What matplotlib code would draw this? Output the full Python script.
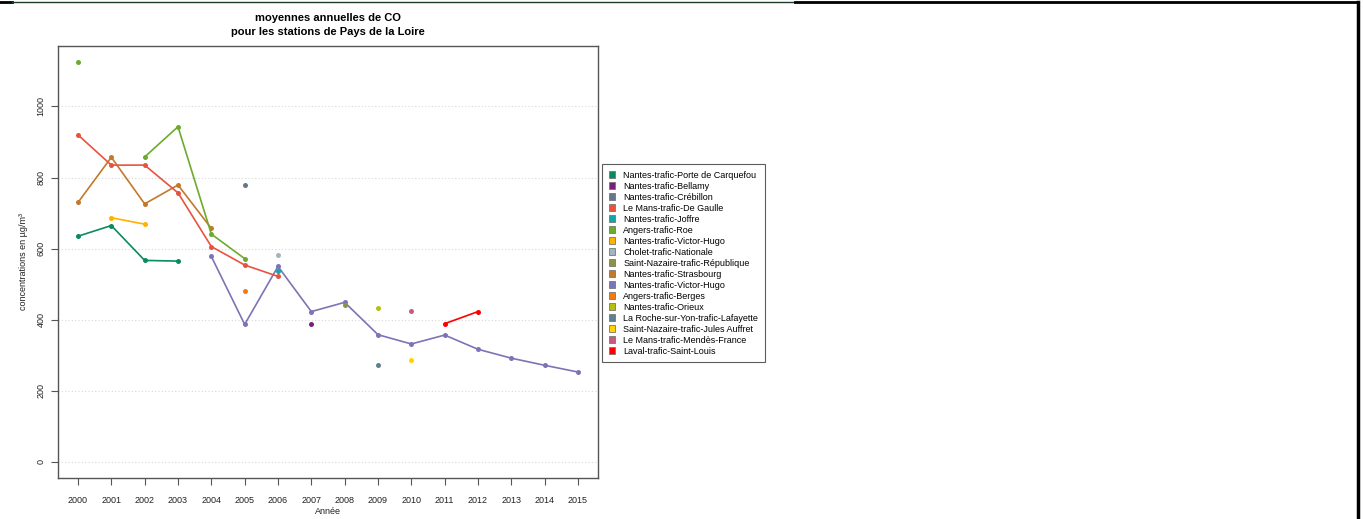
import numpy as np
import matplotlib
matplotlib.use("Agg")
import matplotlib.pyplot as plt
from matplotlib.patches import Patch
from matplotlib.lines import Line2D

plt.rcParams['font.family'] = ['Liberation Sans', 'DejaVu Sans']

years = list(range(2000, 2016))
nan = np.nan

# Annual mean CO concentrations (µg/m³) per station, one value per year 2000-2015
porte_carquefou = [635, 665, 567, 565] + [nan] * 12
bellamy = [nan] * 7 + [389] + [nan] * 8
crebillon = [nan] * 5 + [778] + [nan] * 10
lemans_de_gaulle = [920, 835, 835, 757, 606, 554, 522] + [nan] * 9
joffre = [nan] * 6 + [537] + [nan] * 9
angers_roe = [1125, nan, 858, 943, 641, 572] + [nan] * 10
victor_hugo_a = [nan, 687, 669] + [nan] * 13
cholet_nationale = [nan] * 6 + [581] + [nan] * 9
sn_republique = [nan] * 8 + [441] + [nan] * 7
strasbourg = [730, 857, 726, 779, 657] + [nan] * 11
victor_hugo_b = [nan] * 4 + [578, 387, 550, 423, 449, 358, 332, 357, 317, 292, 272, 253]
angers_berges = [nan] * 5 + [482] + [nan] * 10
orieux = [nan] * 9 + [432] + [nan] * 6
la_roche_lafayette = [nan] * 9 + [273] + [nan] * 6
sn_jules_auffret = [nan] * 10 + [286] + [nan] * 5
lemans_mendes_france = [nan] * 10 + [425] + [nan] * 5
laval_saint_louis = [nan] * 11 + [389, 423] + [nan] * 3

stations = [
    "Nantes-trafic-Porte de Carquefou",
    "Nantes-trafic-Bellamy",
    "Nantes-trafic-Crébillon",
    "Le Mans-trafic-De Gaulle",
    "Nantes-trafic-Joffre",
    "Angers-trafic-Roe",
    "Nantes-trafic-Victor-Hugo",
    "Cholet-trafic-Nationale",
    "Saint-Nazaire-trafic-République",
    "Nantes-trafic-Strasbourg",
    "Nantes-trafic-Victor-Hugo",
    "Angers-trafic-Berges",
    "Nantes-trafic-Orieux",
    "La Roche-sur-Yon-trafic-Lafayette",
    "Saint-Nazaire-trafic-Jules Auffret",
    "Le Mans-trafic-Mendès-France",
    "Laval-trafic-Saint-Louis",
]
values = [
    porte_carquefou, bellamy, crebillon, lemans_de_gaulle, joffre, angers_roe,
    victor_hugo_a, cholet_nationale, sn_republique, strasbourg, victor_hugo_b,
    angers_berges, orieux, la_roche_lafayette, sn_jules_auffret,
    lemans_mendes_france, laval_saint_louis,
]
colors = [
    "#0b8a5e", "#7a1f7c", "#667789", "#e8533e", "#10a7a8", "#6cab2c",
    "#ffb200", "#a3b3c0", "#8c9443", "#c4782a", "#7b74b5", "#f27b0c",
    "#b5c10f", "#5f8090", "#ffd200", "#c85a80", "#ff0000",
]

W, H = 1363, 519
fig = plt.figure(figsize=(W / 100, H / 100), dpi=100)
ax = fig.add_axes([58 / W, 1 - 478 / H, (598 - 58) / W, (478 - 46) / H])

# Draw in reverse so the first stations sit on top
for name, vals, col in reversed(list(zip(stations, values, colors))):
    ax.plot(years, vals, color=col, lw=1.2, marker='o', markersize=3.6,
            markeredgewidth=0, zorder=3)

ax.set_xlim(1999.4, 2015.6)
ax.set_ylim(-45, 1170)
ax.set_xticks(years)
ax.set_xticklabels([str(y) for y in years], fontsize=6.5)
ax.set_yticks(range(0, 1001, 200))
ax.set_yticklabels([str(v) for v in range(0, 1001, 200)], fontsize=6.5,
                   rotation=90, va='center')
for v in range(0, 1001, 200):
    ax.axhline(v, color='#d8d8d8', lw=0.8, ls=(0, (1, 2)), zorder=1)

for sp in ax.spines.values():
    sp.set_color('#555555')
    sp.set_linewidth(1.0)
ax.tick_params(axis='both', colors='#555555', labelcolor='#222222',
               length=5, width=0.8)
ax.tick_params(axis='x', pad=8)
ax.tick_params(axis='y', pad=4)

ax.set_ylabel("concentrations en µg/m³", fontsize=6.5, color='#222222', labelpad=6)
fig.text(328 / W, 1 - 511 / H, "Année", ha='center', va='center',
         fontsize=6.5, color='#222222')

fig.text(328 / W, 1 - 18 / H, "moyennes annuelles de CO", ha='center', va='center',
         fontsize=8, fontweight='bold')
fig.text(328 / W, 1 - 32 / H, "pour les stations de Pays de la Loire", ha='center',
         va='center', fontsize=8, fontweight='bold')

handles = [Patch(facecolor=c, edgecolor='#777777', linewidth=0.6) for c in colors]
leg = fig.legend(handles, stations, loc='upper left',
                 bbox_to_anchor=(602 / W, 1 - 164 / H), fontsize=6.5,
                 frameon=True, fancybox=False, borderpad=0.75, labelspacing=0.22,
                 handlelength=0.7, handleheight=0.8, handletextpad=0.9,
                 borderaxespad=0)
leg.get_frame().set_edgecolor('#333333')
leg.get_frame().set_linewidth(0.8)

# Frame lines along the top and right edges
fig.add_artist(Line2D([0, 12 / W], [1 - 1.5 / H] * 2, color='black', lw=2))
fig.add_artist(Line2D([12 / W, 795 / W], [1 - 1.5 / H] * 2, color='#1f3b2c', lw=1))
fig.add_artist(Line2D([795 / W, 1358 / W], [1 - 1.5 / H] * 2, color='black', lw=2))
fig.add_artist(Line2D([1358 / W] * 2, [0, 1 - 1.5 / H], color='black', lw=2.5))

fig.savefig("out.png", dpi=100)
